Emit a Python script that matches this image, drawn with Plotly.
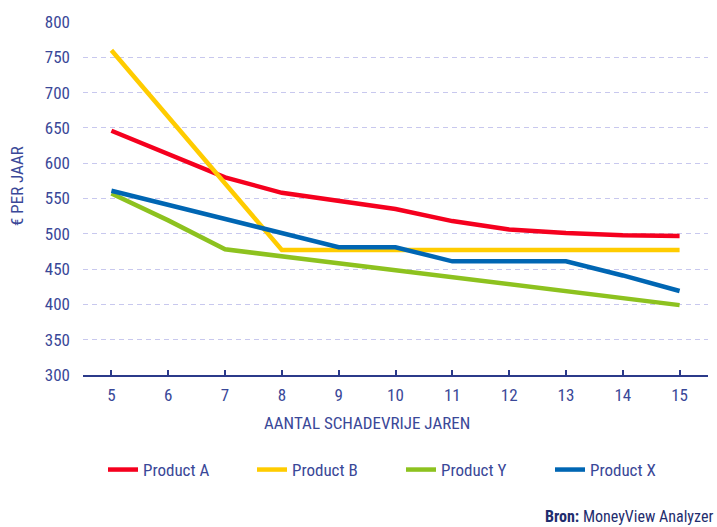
import plotly.graph_objects as go

years = [5, 6, 7, 8, 9, 10, 11, 12, 13, 14, 15]
product_a = [646, 613, 580, 558, 546, 535, 518, 506, 501, 498, 497]
product_b = [760, 665, 572, 477, 477, 477, 477, 477, 477, 477, 477]
product_y = [557, 519, 478, 468, 458, 448, 438, 428, 419, 409, 399]
product_x = [561, 541, 522, 502, 481, 481, 461, 461, 461, 441, 419]

series = [
    ("Product A", product_a, "#f5001e"),
    ("Product B", product_b, "#ffcc00"),
    ("Product Y", product_y, "#8dc21f"),
    ("Product X", product_x, "#0066b3"),
]
y_ticks = list(range(300, 801, 50))
x_ticks = years

FONT = "Liberation Sans Narrow, Roboto Condensed, DejaVu Sans Condensed, Arial Narrow, sans-serif"
TXT = "#3a4898"

fig = go.Figure()
for name, vals, col in series:
    fig.add_trace(go.Scatter(x=years, y=vals, name=name, mode="lines",
                             line=dict(color=col, width=4.5)))

fig.update_layout(
    width=717, height=527,
    margin=dict(l=83, r=9, t=22, b=152),
    paper_bgcolor="white", plot_bgcolor="white",
    font=dict(family=FONT, color=TXT, size=17),
    showlegend=True,
    legend=dict(orientation="h", xref="container", yref="container",
                x=103/717, y=1-470/527, xanchor="left", yanchor="middle",
                entrywidth=104, entrywidthmode="pixels",
                font=dict(size=17, color=TXT), traceorder="normal"),
    xaxis=dict(range=[4.5, 15.5], tickvals=x_ticks, showgrid=False,
               showline=True, linecolor="#2b3a8a", linewidth=2,
               ticks="inside", ticklen=5, tickcolor="#2b3a8a", tickwidth=1.5,
               tickfont=dict(size=17, color=TXT), ticklabelstandoff=4,
               zeroline=False),
    yaxis=dict(range=[300, 800], tickvals=y_ticks, showgrid=True,
               gridcolor="#c8c8ee", gridwidth=1, griddash="5px,4px",
               showline=False, zeroline=False, ticks="",
               tickfont=dict(size=17, color=TXT), ticklabelstandoff=12),
)

fig.add_annotation(text="€ PER JAAR", xref="paper", yref="paper",
                   x=(17-83)/625, y=(375-186)/353, textangle=-90,
                   showarrow=False, font=dict(size=17, color=TXT),
                   xanchor="center", yanchor="middle")
fig.add_annotation(text="AANTAL SCHADEVRIJE JAREN", xref="paper", yref="paper",
                   x=(367-83)/625, y=(375-423)/353, showarrow=False,
                   font=dict(size=17, color=TXT), xanchor="center", yanchor="middle")
fig.add_annotation(text="<b>Bron:</b> MoneyView Analyzer", xref="paper", yref="paper",
                   x=(715-83)/625, y=(375-516)/353, showarrow=False,
                   font=dict(size=16, color="#1f2d6e"), xanchor="right", yanchor="middle")

fig.write_html("out.html", config={"displayModeBar": False},
               post_script="document.body.style.margin='0';document.body.style.overflow='hidden';")
